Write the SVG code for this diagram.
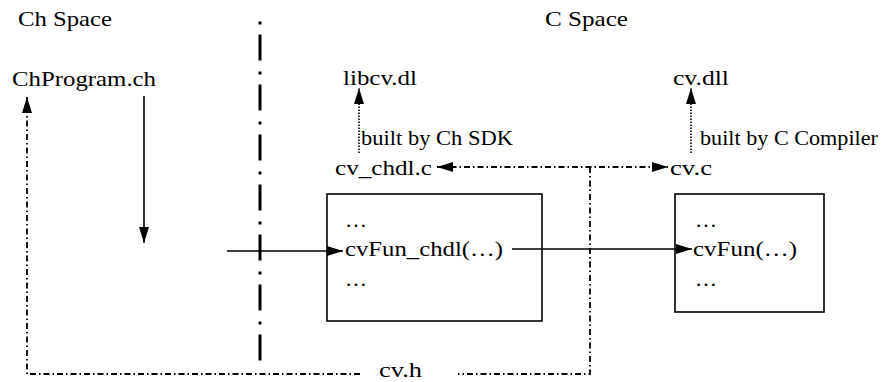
<svg xmlns="http://www.w3.org/2000/svg" width="884" height="382" viewBox="0 0 884 382">
<style>
text{font-family:"Liberation Serif","Times New Roman",serif;font-size:21px;fill:#000}
.box{fill:none;stroke:#000;stroke-width:1.6}
.solid{fill:none;stroke:#000;stroke-width:1.6}
.dot{fill:none;stroke:#000;stroke-width:1.6;stroke-dasharray:1.5 1.5}
.dd{fill:none;stroke:#000;stroke-width:1.8;stroke-dasharray:6 3 1.5 3}
.sep{fill:none;stroke:#000;stroke-width:3;stroke-dasharray:3 10 26 11}
</style>
<defs>
<marker id="ah" markerUnits="userSpaceOnUse" markerWidth="16" markerHeight="10" refX="16" refY="5" orient="auto-start-reverse">
<path d="M0,0 L16,5 L0,10 z" fill="#000"/>
</marker>
</defs>
<rect width="884" height="382" fill="#fff"/>
<g id="labels">
<text x="18" y="26" textLength="94" lengthAdjust="spacingAndGlyphs">Ch Space</text>
<text x="545" y="26" textLength="83" lengthAdjust="spacingAndGlyphs">C Space</text>
</g>
<g id="chprogram">
<text x="12" y="86" textLength="144" lengthAdjust="spacingAndGlyphs">ChProgram.ch</text>
</g>
<g id="libcv">
<text x="343" y="85" textLength="74" lengthAdjust="spacingAndGlyphs">libcv.dl</text>
</g>
<g id="cvdll">
<text x="673" y="85" textLength="56" lengthAdjust="spacingAndGlyphs">cv.dll</text>
</g>
<g id="cvchdlc">
<text x="335" y="175" textLength="97" lengthAdjust="spacingAndGlyphs">cv_chdl.c</text>
</g>
<g id="cvc">
<text x="670" y="175" textLength="42" lengthAdjust="spacingAndGlyphs">cv.c</text>
</g>
<g id="box-chdl">
<rect class="box" x="327" y="194" width="215" height="127"/>
<text x="345" y="227" textLength="22" lengthAdjust="spacingAndGlyphs">…</text>
<text x="345" y="256" textLength="158" lengthAdjust="spacingAndGlyphs">cvFun_chdl(…)</text>
<text x="345" y="286" textLength="22" lengthAdjust="spacingAndGlyphs">…</text>
</g>
<g id="box-cv">
<rect class="box" x="675" y="194" width="149" height="118"/>
<text x="695" y="227" textLength="22" lengthAdjust="spacingAndGlyphs">…</text>
<text x="693" y="256" textLength="104" lengthAdjust="spacingAndGlyphs">cvFun(…)</text>
<text x="695" y="286" textLength="22" lengthAdjust="spacingAndGlyphs">…</text>
</g>
<g id="cvh">
<text x="379" y="377" textLength="43" lengthAdjust="spacingAndGlyphs">cv.h</text>
</g>
<g id="connectors">
<line class="sep" x1="260" y1="21.5" x2="260" y2="371"/>
<line class="solid" x1="144" y1="96" x2="144" y2="243" marker-end="url(#ah)"/>
<line class="solid" x1="227" y1="251" x2="343" y2="251" marker-end="url(#ah)"/>
<line class="solid" x1="512" y1="249" x2="692" y2="249" marker-end="url(#ah)"/>
<line class="dot" x1="359" y1="153" x2="359" y2="88" marker-end="url(#ah)"/>
<text x="361" y="145" textLength="152" lengthAdjust="spacingAndGlyphs">built by Ch SDK</text>
<line class="dot" x1="691" y1="153" x2="691" y2="88" marker-end="url(#ah)"/>
<text x="700" y="145" textLength="178" lengthAdjust="spacingAndGlyphs">built by C Compiler</text>
<line class="dd" x1="437" y1="167" x2="668" y2="167" marker-start="url(#ah)" marker-end="url(#ah)"/>
<path class="dd" d="M590,167 L590,374 L458,374"/>
<path class="dd" d="M360,374 L27,374 L27,97" marker-end="url(#ah)"/>
</g>
</svg>
